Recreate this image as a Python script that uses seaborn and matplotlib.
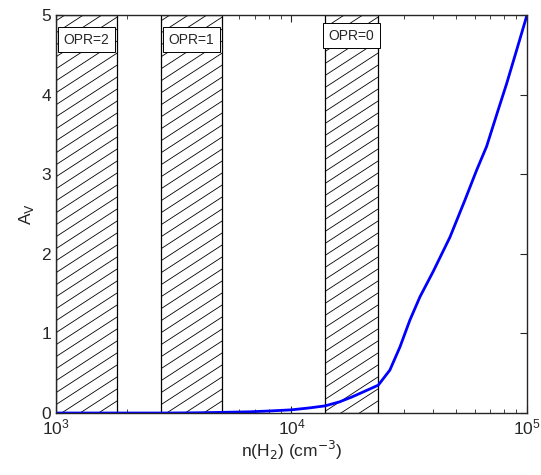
import numpy as np
import pandas as pd
import matplotlib
matplotlib.use("Agg")
import matplotlib.pyplot as plt
import seaborn as sns

# Curve values
density = [1000, 2000, 3000, 4000, 5000, 6600, 8000, 10000, 12000, 13900, 16000, 18000,
           20000, 23370, 26180, 28890, 31860, 35130, 40000, 47100, 54600, 61100,
           67400, 75500, 82000, 90400, 100000]
av = [0.0, 0.0, 0.0, 0.003, 0.008, 0.015, 0.025, 0.04, 0.065, 0.09, 0.14, 0.2,
      0.26, 0.35, 0.54, 0.83, 1.17, 1.46, 1.78, 2.21, 2.68, 3.05,
      3.35, 3.81, 4.14, 4.56, 5.0]

# Hatched OPR ranges
opr_labels = ["OPR=2", "OPR=1", "OPR=0"]
opr_low = [1000, 2790, 13870]
opr_high = [1815, 5070, 23280]
label_y = [4.69, 4.69, 4.74]

df = pd.DataFrame({"n": density, "Av": av})

sns.set_style("ticks")
plt.rcParams["font.family"] = ["Liberation Sans", "DejaVu Sans"]
plt.rcParams["xtick.direction"] = "in"
plt.rcParams["ytick.direction"] = "in"

fig = plt.figure(figsize=(5.41, 4.75), dpi=100)
ax = fig.add_axes([0.1035, 0.1305, 0.8705, 0.8375])
ax.set_xscale("log")
ax.set_xlim(1e3, 1e5)
ax.set_ylim(0, 5)

# hatch lines at a shallow angle, clipped to each band
ax_w, ax_h = 471.0, 398.0
slope = 0.65 * ax_w / ax_h
step = 12.0 / ax_h
for lo, hi, lab, ly in zip(opr_low, opr_high, opr_labels, label_y):
    band = ax.axvspan(lo, hi, facecolor="white", edgecolor="black", linewidth=0.9, zorder=1)
    xl = (np.log10(lo) - 3) / 2
    xr = (np.log10(hi) - 3) / 2
    for c in np.arange(-slope * (xr - xl), 1.0 + step, step):
        ln, = ax.plot([xl, xr], [c, c + slope * (xr - xl)], color="black", linewidth=0.6,
                      transform=ax.transAxes, zorder=1.5)
        ln.set_clip_path(band)
    xc = np.sqrt(lo * hi)
    ax.text(xc, ly, lab, ha="center", va="center", fontsize=10, zorder=3,
            bbox=dict(boxstyle="square,pad=0.4", facecolor="white", edgecolor="black", linewidth=0.7))

sns.lineplot(data=df, x="n", y="Av", color="#0000ff", linewidth=2, ax=ax, zorder=2)

ax.set_xlim(1e3, 1e5)
ax.set_ylim(0, 5)
ax.set_yticks([0, 1, 2, 3, 4, 5])
ax.tick_params(axis="both", which="both", top=True, right=True, labelsize=12.5)
ax.tick_params(axis="both", which="major", length=5, width=0.8)
ax.tick_params(axis="x", which="minor", length=3, width=0.6)
ax.set_xlabel(r"n(H$_2$) (cm$^{-3}$)", fontsize=12.5, labelpad=1)
ax.set_ylabel(r"A$_\mathrm{V}$", fontsize=12.5)
for s in ax.spines.values():
    s.set_linewidth(1.0)
    s.set_zorder(4)

fig.savefig("out.png", dpi=100)
